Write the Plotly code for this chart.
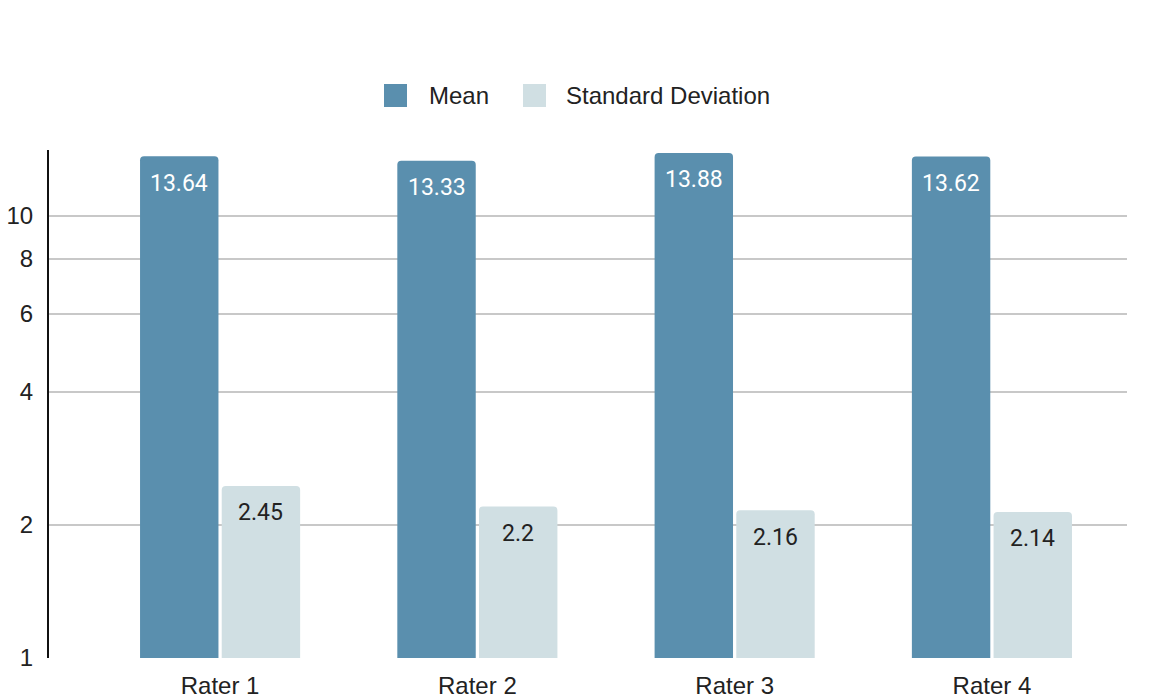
import plotly.graph_objects as go
import numpy as np

raters = ["Rater 1", "Rater 2", "Rater 3", "Rater 4"]
mean_vals = [13.64, 13.33, 13.88, 13.62]
sd_vals = [2.45, 2.2, 2.16, 2.14]
y_ticks = [1, 2, 4, 6, 8, 10]
series_names = ["Mean", "Standard Deviation"]

MEAN_COLOR = "#5a8fae"
SD_COLOR = "#d0dfe3"
TEXT_COLOR = "#222222"

W, H = 1154, 698
M_L, M_R, M_T, M_B = 49, 27, 150, 40
PLOT_W = W - M_L - M_R
PLOT_H = H - M_T - M_B

BARGAP = 0.365
GROUP_W = 1 - BARGAP
SLOT = GROUP_W / 2


def px_to_paper(px, py):
    return (px - M_L) / PLOT_W, (H - M_B - py) / PLOT_H


fig = go.Figure()
fig.add_trace(go.Bar(
    name=series_names[0], x=raters, y=mean_vals, showlegend=False,
    marker=dict(color=MEAN_COLOR, line=dict(width=0)),
))
fig.add_trace(go.Bar(
    name=series_names[1], x=raters, y=sd_vals, showlegend=False,
    marker=dict(color=SD_COLOR, line=dict(width=0)),
))

# value labels placed just below the top of each bar
annotations = []
for i, (m, s) in enumerate(zip(mean_vals, sd_vals)):
    annotations.append(dict(
        x=i - SLOT / 2, y=np.log10(m), xref="x", yref="y",
        text=f"{m:g}", showarrow=False, yshift=-27, yanchor="middle",
        font=dict(family="Roboto", size=23, color="#ffffff"),
    ))
    annotations.append(dict(
        x=i + SLOT / 2, y=np.log10(s), xref="x", yref="y",
        text=f"{s:g}", showarrow=False, yshift=-27, yanchor="middle",
        font=dict(family="Roboto", size=23, color=TEXT_COLOR),
    ))

# legend drawn as swatches + labels above the plot
shapes = []
legend_items = [(series_names[0], MEAN_COLOR, 384, 427), (series_names[1], SD_COLOR, 523, 564)]
for name, col, sx, tx in legend_items:
    x0, y0 = px_to_paper(sx, 107)
    x1, y1 = px_to_paper(sx + 23, 84)
    shapes.append(dict(type="rect", xref="paper", yref="paper",
                       x0=x0, y0=y0, x1=x1, y1=y1,
                       fillcolor=col, line=dict(width=0)))
    tx_p, ty_p = px_to_paper(tx, 96)
    annotations.append(dict(
        x=tx_p, y=ty_p, xref="paper", yref="paper", text=name,
        showarrow=False, xanchor="left", yanchor="middle",
        font=dict(family="Liberation Sans, Arial", size=24, color=TEXT_COLOR),
    ))

fig.update_layout(
    width=W, height=H,
    margin=dict(l=M_L, r=M_R, t=M_T, b=M_B),
    paper_bgcolor="white", plot_bgcolor="white",
    barmode="group", bargap=BARGAP, bargroupgap=0.04,
    barcornerradius=4,
    font=dict(family="Liberation Sans, Arial", size=24, color=TEXT_COLOR),
    showlegend=False,
    annotations=annotations,
    shapes=shapes,
)
fig.update_xaxes(
    type="category", range=[-0.665, 3.525],
    showgrid=False, showline=False, ticks="",
    tickfont=dict(size=24, color=TEXT_COLOR),
    ticklabelstandoff=11, automargin=False,
)
fig.update_yaxes(
    type="log", range=[0, 1.149],
    tickvals=y_ticks, ticktext=[str(t) for t in y_ticks],
    showgrid=True, gridcolor="#c8c8c8", gridwidth=1.5,
    showline=True, linecolor="#111111", linewidth=2,
    ticks="", tickfont=dict(size=24, color=TEXT_COLOR),
    ticklabelstandoff=9, automargin=False,
)

fig.write_html("out.html")
